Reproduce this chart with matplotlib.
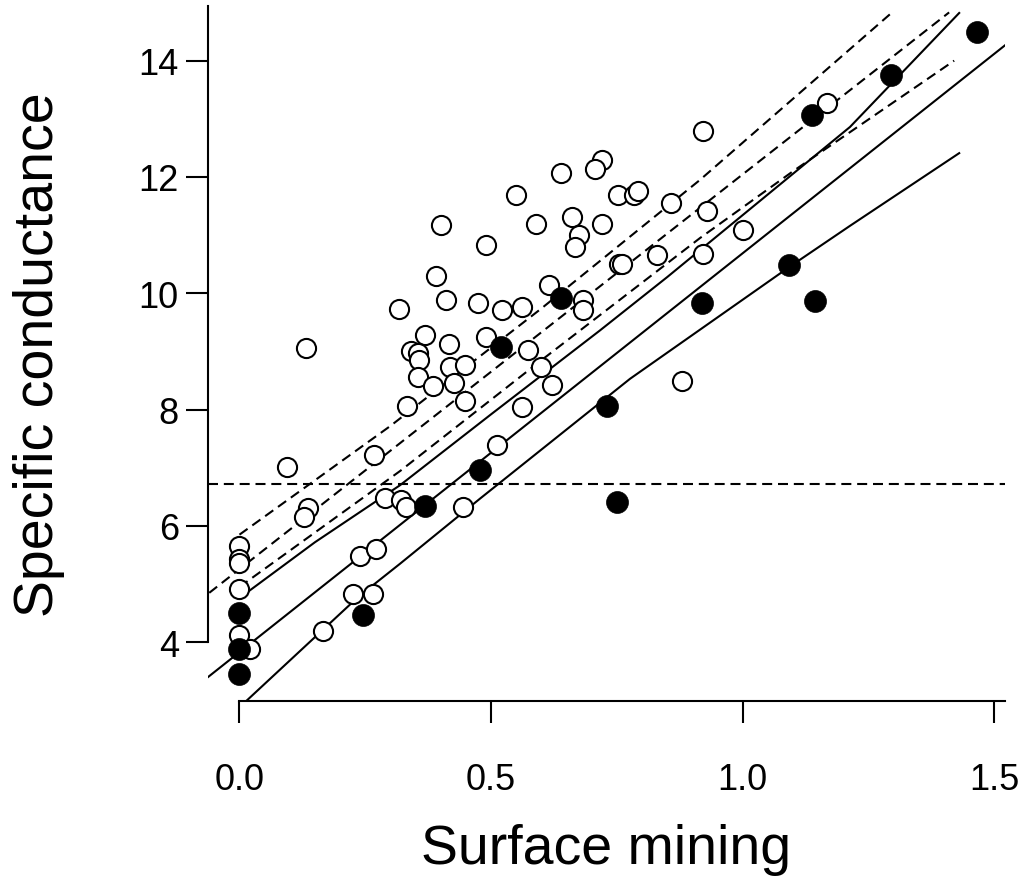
import matplotlib
matplotlib.use("Agg")
import matplotlib.pyplot as plt
import numpy as np

# ---- data ----
open_x = [0, 0, 0, 0, 0, 0.020,
          0.094, 0.133, 0.137, 0.129, 0.268, 0.29, 0.32, 0.33,
          0.24, 0.272, 0.226, 0.265, 0.166,
          0.369, 0.49, 0.416, 0.34, 0.355, 0.356, 0.355, 0.419, 0.449,
          0.574, 0.60, 0.62, 0.385, 0.426, 0.449, 0.332, 0.562, 0.512, 0.444,
          0.316, 0.39, 0.41, 0.474, 0.522, 0.562, 0.616, 0.683, 0.682,
          0.40, 0.59, 0.66, 0.72, 0.675, 0.667, 0.49, 0.55,
          0.72, 0.706, 0.639, 0.753, 0.783, 0.791,
          0.858, 0.928, 0.92, 0.829, 0.755, 0.761,
          0.92, 1.0, 0.88, 1.167]
open_y = [5.65, 5.43, 5.37, 4.92, 4.13, 3.89,
          7.02, 9.06, 6.30, 6.15, 7.22, 6.48, 6.45, 6.33,
          5.49, 5.61, 4.83, 4.83, 4.20,
          9.29, 9.25, 9.12, 9.01, 8.98, 8.85, 8.56, 8.74, 8.76,
          9.02, 8.73, 8.42, 8.40, 8.45, 8.15, 8.07, 8.05, 7.40, 6.32,
          9.73, 10.29, 9.88, 9.83, 9.72, 9.76, 10.15, 9.88, 9.72,
          11.17, 11.20, 11.32, 11.20, 11.00, 10.79, 10.83, 11.69,
          12.30, 12.14, 12.07, 11.69, 11.69, 11.76,
          11.56, 11.41, 10.67, 10.66, 10.50, 10.50,
          12.79, 11.08, 8.49, 13.28]

filled_x = [0, 0, 0, 0.246, 0.369, 0.477, 0.520, 0.639, 0.730, 0.750,
            0.918, 1.092, 1.143, 1.137, 1.294, 1.466]
filled_y = [4.50, 3.89, 3.46, 4.47, 6.35, 6.97, 9.07, 9.92, 8.06, 6.41,
            9.83, 10.48, 9.86, 13.07, 13.75, 14.50]

# solid fitted line (intercept, slope)
fit_solid = (3.83, 6.86)
# solid band curves
upper_solid_x = [0.0, 0.15, 0.319, 0.5, 0.716, 0.85, 1.047, 1.213, 1.43]
upper_solid_y = [4.76, 5.72, 6.70, 7.92, 9.36, 10.28, 11.68, 12.86, 14.82]
lower_solid_x = [0.011, 0.236, 0.319, 0.478, 0.776, 1.092, 1.213, 1.43]
lower_solid_y = [2.97, 4.78, 5.35, 6.47, 8.53, 10.45, 11.16, 12.41]

# dashed curves
dashed_mid_x = [-0.06, 1.41]
dashed_mid_y = [4.85, 14.83]
dashed_up_x = [0.0, 0.30, 0.6, 0.915, 1.298]
dashed_up_y = [5.85, 7.72, 9.74, 11.95, 14.84]
dashed_lo_x = [0.0, 0.32, 0.6, 0.915, 1.1, 1.42]
dashed_lo_y = [4.95, 6.95, 8.85, 10.95, 12.10, 14.00]
threshold = 6.72

xticks = [0.0, 0.5, 1.0, 1.5]
xticklabels = ['0.0', '0.5', '1.0', '1.5']
yticks = [4, 6, 8, 10, 12, 14]

plt.rcParams['font.family'] = ['Liberation Sans', 'DejaVu Sans']

fig = plt.figure(figsize=(10.28, 8.79), dpi=100)
ax = fig.add_axes([208/1028, 1 - 702/879, (1005-208)/1028, (702-7)/879])
xlim = (-0.0625, 1.521)
ylim = (2.99, 14.94)
ax.set_xlim(*xlim)
ax.set_ylim(*ylim)

lw = 1.5
dash = (0, (4.8, 2.8))
xs = np.array(xlim)
ax.plot(xs, fit_solid[0] + fit_solid[1]*xs, color='black', lw=lw)
ax.plot(upper_solid_x, upper_solid_y, color='black', lw=lw)
ax.plot(lower_solid_x, lower_solid_y, color='black', lw=lw)
ax.plot(dashed_mid_x, dashed_mid_y, color='black', lw=lw, linestyle=dash)
ax.plot(dashed_up_x, dashed_up_y, color='black', lw=lw, linestyle=dash)
ax.plot(dashed_lo_x, dashed_lo_y, color='black', lw=lw, linestyle=dash)
ax.plot([xlim[0], 1.525], [threshold, threshold], color='black', lw=lw, linestyle=dash)

ax.scatter(open_x, open_y, s=190, facecolors='white', edgecolors='black', linewidths=1.5, zorder=3)
ax.scatter(filled_x, filled_y, s=250, facecolors='black', edgecolors='black', linewidths=0.5, zorder=4)

for s in ['top', 'right']:
    ax.spines[s].set_visible(False)
ax.spines['left'].set_bounds(4, ylim[1])
ax.spines['bottom'].set_bounds(0, xlim[1])
ax.spines['left'].set_linewidth(1.5)
ax.spines['bottom'].set_linewidth(1.5)
ax.set_xticks(xticks)
ax.set_xticklabels(xticklabels)
ax.set_yticks(yticks)
ax.tick_params(axis='both', length=16, width=1.5, labelsize=26, direction='out')
ax.tick_params(axis='x', pad=28)
ax.tick_params(axis='y', pad=5)
ax.set_xlabel('Surface mining', fontsize=40)
ax.set_ylabel('Specific conductance', fontsize=40)
ax.xaxis.set_label_coords(0.5, -0.176)
ax.yaxis.set_label_coords(-0.18, 0.5)

fig.savefig('out.png', dpi=100)
